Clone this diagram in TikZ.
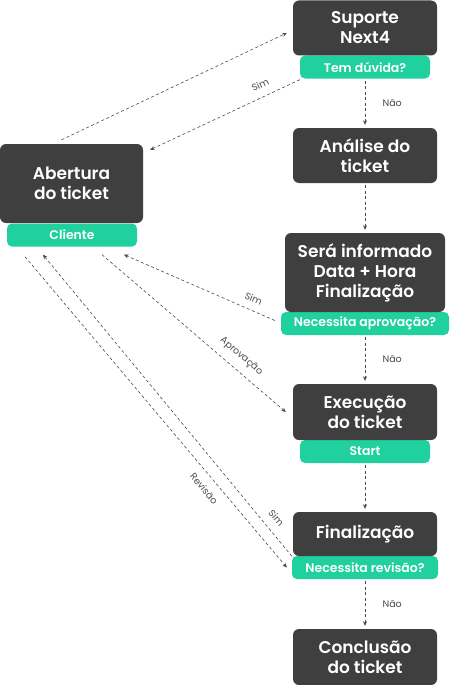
\documentclass[tikz,border=0pt]{standalone}
\usepackage{fontspec}
\setmainfont{Poppins}
\newfontfamily\semi{Poppins}[UprightFont=* SemiBold]
\usetikzlibrary{arrows.meta}

\definecolor{caixa}{HTML}{3F3F3F}
\definecolor{verde}{HTML}{20D09F}
\definecolor{linha}{HTML}{4A4A4A}

\tikzset{
  etapa/.style={fill=caixa, rounded corners=6pt, text=white, align=center, inner sep=0pt,
    minimum width=144pt, font=\semi\fontsize{17}{20}\selectfont},
  rotulo/.style={fill=verde, rounded corners=5pt, text=white, inner sep=0pt,
    minimum width=130pt, minimum height=23pt, font=\semi\fontsize{12.5}{14}\selectfont},
  fluxo/.style={draw=linha, line width=0.6pt, dash pattern=on 3pt off 2.5pt,
    -{Stealth[length=4.5pt,width=4pt]}},
  legenda/.style={text=linha, font=\fontsize{9.5}{11}\selectfont}
}

\begin{document}
\begin{tikzpicture}[x=1pt,y=-1pt]
\useasboundingbox (0,0) rectangle (450,685);

% Coluna da direita
\node[rotulo] (duvida) at (365,67) {Tem dúvida?};
\node[etapa, minimum height=55pt] (suporte) at (365,28) {Suporte\\Next4};
\node[etapa, minimum height=55pt] (analise) at (365,155.5) {Análise do\\ticket};
\node[rotulo, minimum width=168pt] (aprovacao) at (365,323.5) {Necessita aprovação?};
\node[etapa, minimum width=160pt, minimum height=79pt] (informado) at (365,272.5) {Será informado\\Data + Hora\\Finalização};
\node[rotulo] (start) at (365,451.5) {Start};
\node[etapa, minimum height=56pt] (execucao) at (365,412) {Execução\\do ticket};
\node[rotulo, minimum width=146pt] (revisao) at (365,567.5) {Necessita revisão?};
\node[etapa, minimum height=44pt] (finalizacao) at (365,534) {Finalização};
\node[etapa, minimum height=56pt] (conclusao) at (365,657) {Conclusão\\do ticket};

% Cliente
\node[rotulo] (cliente) at (72,235) {Cliente};
\node[etapa, minimum width=143pt, minimum height=79pt] (abertura) at (71.5,183.5) {Abertura\\do ticket};

% Fluxo principal
\draw[fluxo, shorten <=2pt, shorten >=3pt] (duvida) -- node[legenda, right=14pt]{Não} (analise);
\draw[fluxo, shorten <=2pt, shorten >=3pt] (analise) -- (informado);
\draw[fluxo, shorten <=2pt, shorten >=3pt] (aprovacao) -- node[legenda, right=14pt]{Não} (execucao);
\draw[fluxo, shorten <=2pt, shorten >=3pt] (start) -- (finalizacao);
\draw[fluxo, shorten <=2pt, shorten >=3pt] (revisao) -- node[legenda, right=14pt]{Não} (conclusao);

% Retornos ao cliente
\draw[fluxo] ([xshift=-10pt,yshift=4pt]abertura.north) -- ([xshift=-6pt,yshift=-5pt]suporte.west);
\draw[fluxo] ([yshift=-1pt]duvida.south west) -- node[legenda, pos=0.23, above=5pt, sloped]{Sim} ([xshift=7pt,yshift=-6pt]abertura.north east);
\draw[fluxo] ([xshift=-6pt,yshift=3pt]aprovacao.west) -- node[legenda, pos=0.17, above=4pt, sloped]{Sim} ([xshift=52pt,yshift=-8pt]cliente.south);
\draw[fluxo] ([xshift=30pt,yshift=-8pt]cliente.south) -- node[legenda, pos=0.71, above=5pt, sloped]{Aprovação} ([xshift=-7pt]execucao.west);
\draw[fluxo] ([xshift=-47pt,yshift=-10pt]cliente.south) -- node[legenda, pos=0.72, below=5pt, sloped]{Revisão} ([xshift=-5pt]revisao.west);
\draw[fluxo] ([xshift=-1pt]finalizacao.south west) -- node[legenda, pos=0.1, above=5pt, sloped]{Sim} ([xshift=-29pt,yshift=-8pt]cliente.south);

\end{tikzpicture}
\end{document}
